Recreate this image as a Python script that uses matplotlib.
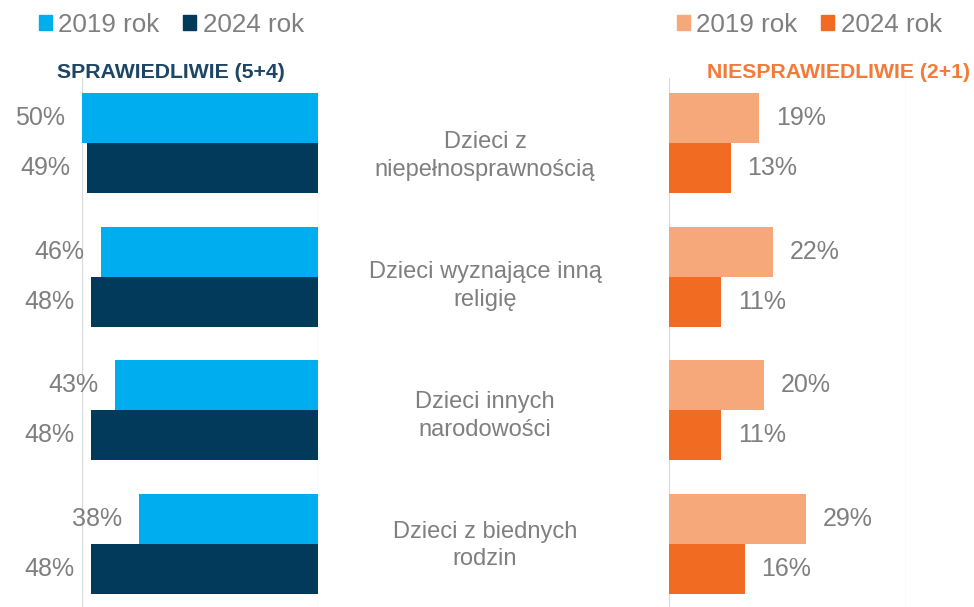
import matplotlib
matplotlib.use('Agg')
import matplotlib.pyplot as plt
from matplotlib.patches import Patch
import numpy as np

CATEGORIES   = ['Dzieci z\nniepełnosprawnością', 'Dzieci wyznające inną\nreligię',
                'Dzieci innych\nnarodowości', 'Dzieci z biednych\nrodzin']
FAIR_2019    = [50, 46, 43, 38]
FAIR_2024    = [49, 48, 48, 48]
UNFAIR_2019  = [19, 22, 20, 29]
UNFAIR_2024  = [13, 11, 11, 16]
YEARS        = ['2019 rok', '2024 rok']

LIGHT_BLUE   = '#00AEEF'
NAVY         = '#023A5C'
LIGHT_ORANGE = '#F6A87B'
ORANGE       = '#F26B22'
GRAY_TEXT    = '#7F7F7F'
GRID         = '#D9D9D9'

plt.rcParams['font.family'] = ['Liberation Sans', 'DejaVu Sans']

W, H = 974, 607
BAR_H = 0.374


def setup_axes(ax, xlim):
    ax.set_xlim(*xlim)
    ax.set_ylim(3.47, -0.486)
    for s in ax.spines.values():
        s.set_visible(False)
    ax.set_xticks([0, 50])
    ax.tick_params(left=False, bottom=False, labelleft=False, labelbottom=False)
    ax.xaxis.grid(True, color=GRID, linewidth=0.9)
    ax.set_axisbelow(True)


def label_bars(ax, bars, values, dx):
    ha = 'right' if dx < 0 else 'left'
    for b, v in zip(bars, values):
        y = b.get_y() + b.get_height() / 2
        ax.annotate(f'{v}%', xy=(b.get_width(), y), xytext=(dx, 0),
                    textcoords='offset points', ha=ha, va='center',
                    fontsize=18, color=GRAY_TEXT)


def main():
    fig = plt.figure(figsize=(W / 100, H / 100), dpi=100)
    y = np.arange(len(CATEGORIES))
    top = 1 - 78 / H

    # left panel: fair
    ax_l = fig.add_axes([82 / W, 0, 236 / W, top])
    setup_axes(ax_l, (50, 0))
    b1 = ax_l.barh(y - BAR_H / 2, FAIR_2019, height=BAR_H, color=LIGHT_BLUE)
    b2 = ax_l.barh(y + BAR_H / 2, FAIR_2024, height=BAR_H, color=NAVY)
    label_bars(ax_l, b1, FAIR_2019, -12)
    label_bars(ax_l, b2, FAIR_2024, -12)

    # right panel: unfair
    ax_r = fig.add_axes([669 / W, 0, 237 / W, top])
    setup_axes(ax_r, (0, 50))
    b3 = ax_r.barh(y - BAR_H / 2, UNFAIR_2019, height=BAR_H, color=LIGHT_ORANGE)
    b4 = ax_r.barh(y + BAR_H / 2, UNFAIR_2024, height=BAR_H, color=ORANGE)
    label_bars(ax_r, b3, UNFAIR_2019, 12)
    label_bars(ax_r, b4, UNFAIR_2024, 12)

    # category labels in the middle (slightly tighter spacing than the bars)
    for i, cat in enumerate(CATEGORIES):
        yy = ax_l.transData.transform((0, 0.1 + i * 0.97))[1] / fig.dpi / fig.get_figheight()
        fig.text(485 / W, yy, cat, ha='center', va='center', fontsize=17,
                 color=GRAY_TEXT, linespacing=1.35)

    # headers
    fig.text(57 / W, 1 - 72 / H, 'SPRAWIEDLIWIE (5+4)', ha='left', va='center',
             fontsize=15.3, fontweight='bold', color='#1D4566')
    fig.text(970 / W, 1 - 72 / H, 'NIESPRAWIEDLIWIE (2+1)', ha='right', va='center',
             fontsize=15.3, fontweight='bold', color='#F47A3A')

    # legends
    leg_kw = dict(ncol=2, frameon=False, fontsize=18.7, labelcolor=GRAY_TEXT,
                  handlelength=0.5, handleheight=0.5, handletextpad=0.25,
                  columnspacing=0.9, borderpad=0, borderaxespad=0, loc='center left')
    fig.legend([Patch(color=LIGHT_BLUE), Patch(color=NAVY)], YEARS,
               bbox_to_anchor=(39 / W, 1 - 25 / H), **leg_kw)
    fig.legend([Patch(color=LIGHT_ORANGE), Patch(color=ORANGE)], YEARS,
               bbox_to_anchor=(677 / W, 1 - 25 / H), **leg_kw)

    fig.savefig('out.png', dpi=100)


if __name__ == '__main__':
    main()
